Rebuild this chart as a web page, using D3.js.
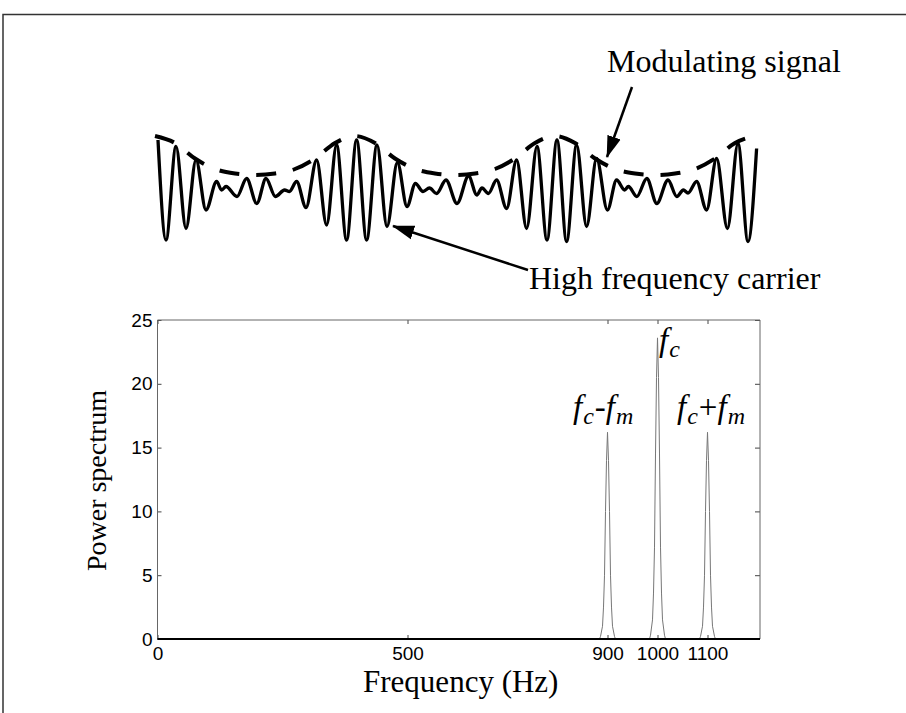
<!DOCTYPE html>
<html>
<head>
<meta charset="utf-8">
<script src="https://cdn.jsdelivr.net/npm/d3@7"></script>
<style>
body { margin: 0; background: #fff; }
</style>
</head>
<body>
<div id="chart"></div>
<script>
// top panel: AM waveform, turning points (time in ms)
const carrierT = [0.05, 0.45, 0.95, 1.45, 1.95, 2.45, 2.98, 3.23, 3.45, 4.00, 4.48, 4.99, 5.45, 5.92, 6.38, 6.62, 6.98, 7.45, 7.98, 8.48,
    8.98, 9.48, 9.98, 10.48, 11.00, 11.50, 12.02, 12.50, 12.92, 13.30, 13.62, 13.98, 14.45, 15.00, 15.58, 15.99, 16.25, 16.57, 16.98, 17.48,
    17.98, 18.48, 19.00, 19.50, 20.00, 20.48, 20.98, 21.48, 21.98, 22.52, 22.98, 23.38, 23.57, 23.99, 24.49, 24.99, 25.55, 25.99, 26.32, 26.55,
    26.98, 27.48, 27.98, 28.52, 29.05, 29.55, 29.98];
const carrierV = [1.00, -1.00, 0.87, -0.77, 0.60, -0.40, 0.17, 0.00, 0.07, -0.13, 0.23, -0.27, 0.23, -0.13, 0.00, -0.03, 0.17, -0.35, 0.60, -0.70,
    0.90, -1.00, 1.00, -1.00, 0.90, -0.73, 0.55, -0.33, 0.13, -0.03, 0.04, -0.07, 0.20, -0.27, 0.28, -0.10, 0.04, -0.07, 0.20, -0.37,
    0.60, -0.77, 0.87, -1.00, 1.00, -1.03, 0.90, -0.73, 0.63, -0.40, 0.20, 0.00, 0.07, -0.13, 0.23, -0.27, 0.20, -0.13, 0.00, -0.06,
    0.17, -0.40, 0.63, -0.77, 0.93, -1.03, 0.83];

// dashed modulating envelope
const envT = [0, 1, 2, 3, 4, 5, 6, 7, 8, 9, 10, 11, 12, 13, 14, 15, 16, 17, 18, 19, 20, 21, 22, 23, 24, 25, 26, 27, 28, 29, 30];
const envV = [1.08, 0.94, 0.63, 0.42, 0.33, 0.30, 0.33, 0.42, 0.63, 0.94, 1.08, 0.94, 0.63, 0.42, 0.33, 0.30, 0.33, 0.42, 0.63, 0.94,
    1.08, 0.94, 0.63, 0.42, 0.33, 0.30, 0.33, 0.42, 0.63, 0.94, 1.08];

// bottom panel: power spectrum
const specFreq = [0, 884, 886, 890, 892, 894, 896, 898, 900, 902, 904, 906, 908, 910, 914, 916,
    984, 986, 990, 992, 994, 996, 998, 1000, 1002, 1004, 1006, 1008, 1010, 1014, 1016,
    1084, 1086, 1090, 1092, 1094, 1096, 1098, 1100, 1102, 1104, 1106, 1108, 1110, 1114, 1116, 1205];
const specPower = [0, 0, 0.2, 1.0, 2.5, 5.0, 10.0, 14.0, 16.2, 14.0, 10.0, 5.0, 2.5, 1.0, 0.2, 0,
    0, 0.3, 1.5, 3.6, 7.2, 14.5, 20.5, 23.6, 20.5, 14.5, 7.2, 3.6, 1.5, 0.3, 0,
    0, 0.2, 1.0, 2.5, 5.0, 10.0, 14.0, 16.2, 14.0, 10.0, 5.0, 2.5, 1.0, 0.2, 0, 0];

const xTicks = [0, 500, 900, 1000, 1100];
const yTicks = [0, 5, 10, 15, 20, 25];

class amFigure {
    constructor(parentElement) {
        this.parentElement = parentElement;
        this.serif = "'Liberation Serif', 'Times New Roman', serif";
        this.sans = "'Liberation Sans', Arial, sans-serif";
        this.initVis();
    }

    initVis() {
        let vis = this;
        vis.width = 906;
        vis.height = 713;

        vis.svg = d3.select("#" + vis.parentElement).append("svg")
            .attr("width", vis.width)
            .attr("height", vis.height)
            .style("background", "#fff");

        // outer frame (only top and left edges are in view)
        vis.svg.append("path")
            .attr("d", "M3,713V14.5H906")
            .attr("fill", "none")
            .attr("stroke", "#333")
            .attr("stroke-width", 1.5);

        vis.svg.append("defs").append("marker")
            .attr("id", "head")
            .attr("markerUnits", "userSpaceOnUse")
            .attr("viewBox", "0 -8 22 16")
            .attr("refX", 21)
            .attr("refY", 0)
            .attr("markerWidth", 22)
            .attr("markerHeight", 16)
            .attr("orient", "auto")
            .append("path")
            .attr("d", "M0,-7L22,0L0,7Z")
            .attr("fill", "#000");

        vis.drawSignal();
        vis.drawSpectrum();
    }

    drawSignal() {
        let vis = this;
        let x = d3.scaleLinear().domain([0, 30]).range([157, 757]);
        let y = d3.scaleLinear().domain([-1, 1]).range([240, 140]);

        let sig = carrierT.map((t, i) => [t, carrierV[i]]);
        let env = envT.map((t, i) => [t, envV[i]]);

        vis.svg.append("path")
            .datum(sig)
            .attr("fill", "none")
            .attr("stroke", "#000")
            .attr("stroke-width", 3.3)
            .attr("stroke-linejoin", "round")
            .attr("d", d3.line().curve(d3.curveMonotoneX).x(d => x(d[0])).y(d => y(d[1])));

        vis.svg.append("path")
            .datum(env)
            .attr("fill", "none")
            .attr("stroke", "#000")
            .attr("stroke-width", 4)
            .attr("stroke-dasharray", "20,17")
            .attr("d", d3.line().curve(d3.curveMonotoneX).x(d => x(d[0]) - 2).y(d => y(d[1])));

        // annotations
        vis.svg.append("text")
            .attr("x", 607).attr("y", 72)
            .attr("font-family", vis.serif).attr("font-size", 32)
            .text("Modulating signal");
        vis.svg.append("line")
            .attr("x1", 632).attr("y1", 87)
            .attr("x2", x(22.5)).attr("y2", y(0.66))
            .attr("stroke", "#000").attr("stroke-width", 2.5)
            .attr("marker-end", "url(#head)");

        vis.svg.append("text")
            .attr("x", 529).attr("y", 289)
            .attr("font-family", vis.serif).attr("font-size", 32)
            .text("High frequency carrier");
        vis.svg.append("line")
            .attr("x1", 528).attr("y1", 270)
            .attr("x2", x(11.8)).attr("y2", y(-0.72))
            .attr("stroke", "#000").attr("stroke-width", 2.5)
            .attr("marker-end", "url(#head)");
    }

    drawSpectrum() {
        let vis = this;
        let left = 157.5, right = 760, top = 320, bottom = 639;
        let x = d3.scaleLinear().domain([0, 1205]).range([left, right]);
        let y = d3.scaleLinear().domain([0, 25]).range([bottom, top]);

        let g = vis.svg.append("g");

        g.append("g")
            .attr("transform", "translate(0," + bottom + ")")
            .call(d3.axisBottom(x).tickValues(xTicks).tickFormat(d3.format("d"))
                .tickSizeInner(-4).tickSizeOuter(0).tickPadding(8));
        g.append("g")
            .attr("transform", "translate(0," + top + ")")
            .call(d3.axisTop(x).tickValues(xTicks).tickSizeInner(-4).tickSizeOuter(0).tickFormat(""));
        g.append("g")
            .attr("transform", "translate(" + left + ",0)")
            .call(d3.axisLeft(y).tickValues(yTicks).tickSizeInner(-4).tickSizeOuter(0).tickPadding(5));
        g.append("g")
            .attr("transform", "translate(" + right + ",0)")
            .call(d3.axisRight(y).tickValues(yTicks).tickSizeInner(-5).tickSizeOuter(0).tickFormat(""));

        g.selectAll(".domain").remove();
        g.selectAll(".tick line").attr("stroke", "#444");
        g.selectAll(".tick text")
            .attr("font-family", vis.sans)
            .attr("font-size", 19)
            .attr("fill", "#000");

        // spectrum line
        let spec = specFreq.map((f, i) => [f, specPower[i]]);
        g.append("path")
            .datum(spec)
            .attr("fill", "none")
            .attr("stroke", "#777")
            .attr("stroke-width", 1)
            .attr("d", d3.line().x(d => x(d[0])).y(d => y(d[1])));

        // box
        g.append("path")
            .attr("d", "M" + left + "," + bottom + "V" + top + "H" + right + "V" + bottom)
            .attr("fill", "none").attr("stroke", "#666").attr("stroke-width", 1);
        g.append("line")
            .attr("x1", left).attr("x2", right)
            .attr("y1", bottom).attr("y2", bottom)
            .attr("stroke", "#000").attr("stroke-width", 2.2);

        // axis titles
        vis.svg.append("text")
            .attr("x", (left + right) / 2 + 2).attr("y", 692)
            .attr("text-anchor", "middle")
            .attr("font-family", vis.serif).attr("font-size", 31)
            .text("Frequency (Hz)");
        vis.svg.append("text")
            .attr("transform", "translate(106," + ((top + bottom) / 2 + 1) + ") rotate(-90)")
            .attr("text-anchor", "middle")
            .attr("font-family", vis.serif).attr("font-size", 28)
            .text("Power spectrum");

        // peak labels
        vis.peakLabel(573, 418, [["f", "c"], "-", ["f", "m"]]);
        vis.peakLabel(659, 351, [["f", "c"]]);
        vis.peakLabel(677, 418, [["f", "c"], "+", ["f", "m"]]);
    }

    peakLabel(px, py, parts) {
        let vis = this;
        let t = vis.svg.append("text")
            .attr("x", px).attr("y", py)
            .attr("font-family", vis.serif)
            .attr("font-size", 33);
        parts.forEach(p => {
            if (typeof p === "string") {
                t.append("tspan").attr("dy", -6).attr("dx", 1).text(p);
            } else {
                t.append("tspan").attr("font-style", "italic").text(p[0]);
                t.append("tspan").attr("font-style", "italic").attr("font-size", 24).attr("dx", 1).attr("dy", 6).text(p[1]);
            }
        });
    }
}

new amFigure("chart");
</script>
</body>
</html>
